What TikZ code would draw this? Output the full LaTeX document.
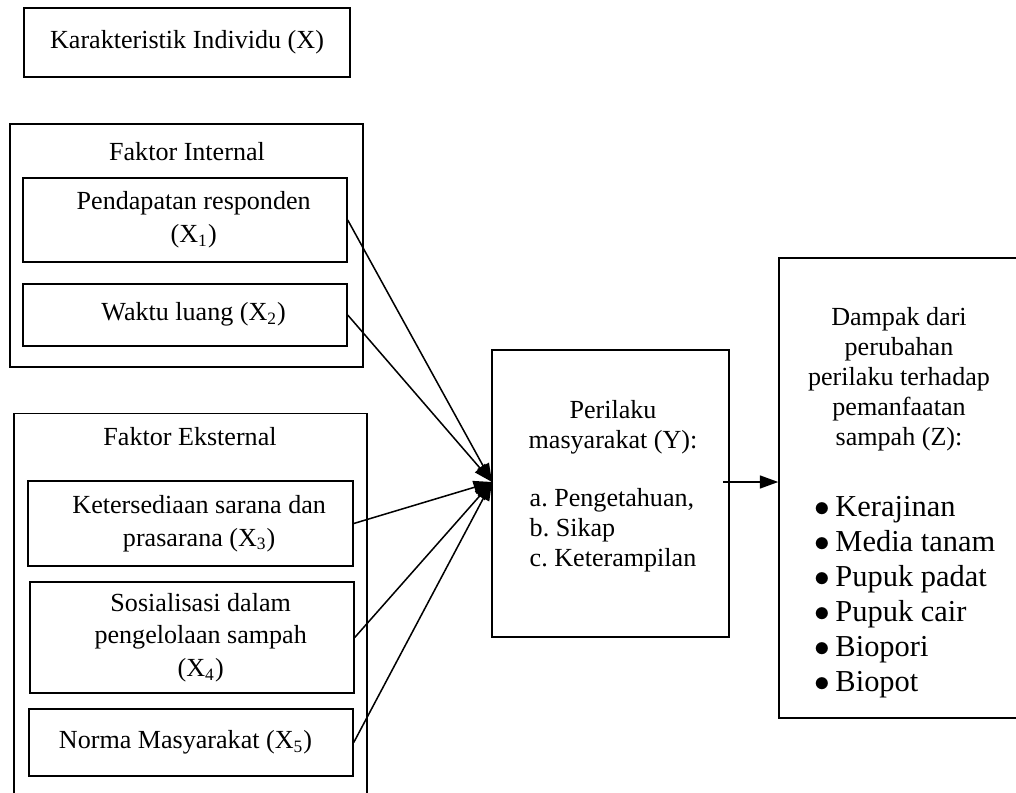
\documentclass[tikz,border=0pt]{standalone}
\usepackage{fontspec}
\setmainfont{Liberation Serif}
\usetikzlibrary{arrows.meta}

\begin{document}
\begin{tikzpicture}[x=0.46pt,y=-0.46pt,>={Triangle[length=8.5pt,width=6pt]},
                    kotak/.style={draw,line width=0.7pt,align=center,inner sep=0pt,
                                  font=\fontsize{12}{15}\selectfont},
                    teks/.style={align=center,inner sep=0pt,font=\fontsize{12}{13.8}\selectfont},
                    panah/.style={->,line width=0.7pt}]
                  \useasboundingbox (0,0) rectangle (1016,793);
                  \clip (0,0) rectangle (1016,793);
                  \node[kotak,minimum width=150pt,minimum height=31.7pt] (karakter) at (187,42.5)
                       {\raisebox{2pt}{Karakteristik Individu (X)}};
                  \node[kotak,minimum width=162.4pt,minimum height=111.8pt] (internal) at (186.5,245.5) {};
                  \node[teks] (judulInternal) at (187,152) {Faktor Internal};
                  \node[kotak,minimum width=149pt,minimum height=38.6pt] (pendapatan) at (185,220)
                       {\hspace{8pt}Pendapatan responden\\\hspace{8pt}(X\textsubscript{1})};
                  \node[kotak,minimum width=149pt,minimum height=28.5pt] (waktu) at (185,315)
                       {\hspace{8pt}\raisebox{3.5pt}{Waktu luang (X\textsubscript{2})}};
                  \node[kotak,minimum width=162.4pt,minimum height=190pt] (eksternal) at (190.5,620) {};
                  \node[teks] (judulEksternal) at (190,437) {Faktor Eksternal};
                  \node[kotak,minimum width=149.5pt,minimum height=39.1pt] (sarana) at (190.5,523.5)
                       {\hspace{8pt}Ketersediaan sarana dan\\\hspace{8pt}prasarana (X\textsubscript{3})};
                  \node[kotak,minimum width=149pt,minimum height=51pt] (sosialisasi) at (192,637.5)
                       {\hspace{8pt}Sosialisasi dalam\\\hspace{8pt}pengelolaan sampah\\
                        \hspace{8pt}(X\textsubscript{4})};
                  \node[kotak,minimum width=149pt,minimum height=30.8pt] (norma) at (191,742.5)
                       {\hspace{-5pt}Norma Masyarakat (X\textsubscript{5})};
                  \node[kotak,minimum width=109pt,minimum height=132pt] (perilaku) at (610.5,493.5) {};
                  \node[teks] (isiPerilaku) at (613,488)
                       {Perilaku\\masyarakat (Y):\\[13.8pt]
                        \begin{tabular}{@{}l@{}}a.\ Pengetahuan,\\b.\ Sikap\\c.\ Keterampilan\end{tabular}};
                  \node[kotak,minimum width=110.4pt,minimum height=211.6pt] (dampak) at (899,488) {};
                  \node[teks] (isiDampak) at (899,505)
                       {Dampak dari\\perubahan\\perilaku terhadap\\pemanfaatan\\sampah (Z):\\[18pt]
                        \fontsize{14}{16.1}\selectfont\hspace{5.5pt}%
                        \begin{tabular}{@{}l@{}}$\bullet$\,Kerajinan\\$\bullet$\,Media tanam\\
                        $\bullet$\,Pupuk padat\\$\bullet$\,Pupuk cair\\$\bullet$\,Biopori\\
                        $\bullet$\,Biopot\end{tabular}};
                  \coordinate (tip) at (492,482);
                  \draw[panah] (pendapatan.east) -- (tip);
                  \draw[panah] (waktu.east) -- (tip);
                  \draw[panah] (sarana.east) -- (tip);
                  \draw[panah] (sosialisasi.east) -- (tip);
                  \draw[panah] (norma.east) -- (tip);
                  \draw[panah] ([xshift=-3pt]perilaku.east |- tip) -- (dampak.west |- tip);
              \end{tikzpicture}
\end{document}
